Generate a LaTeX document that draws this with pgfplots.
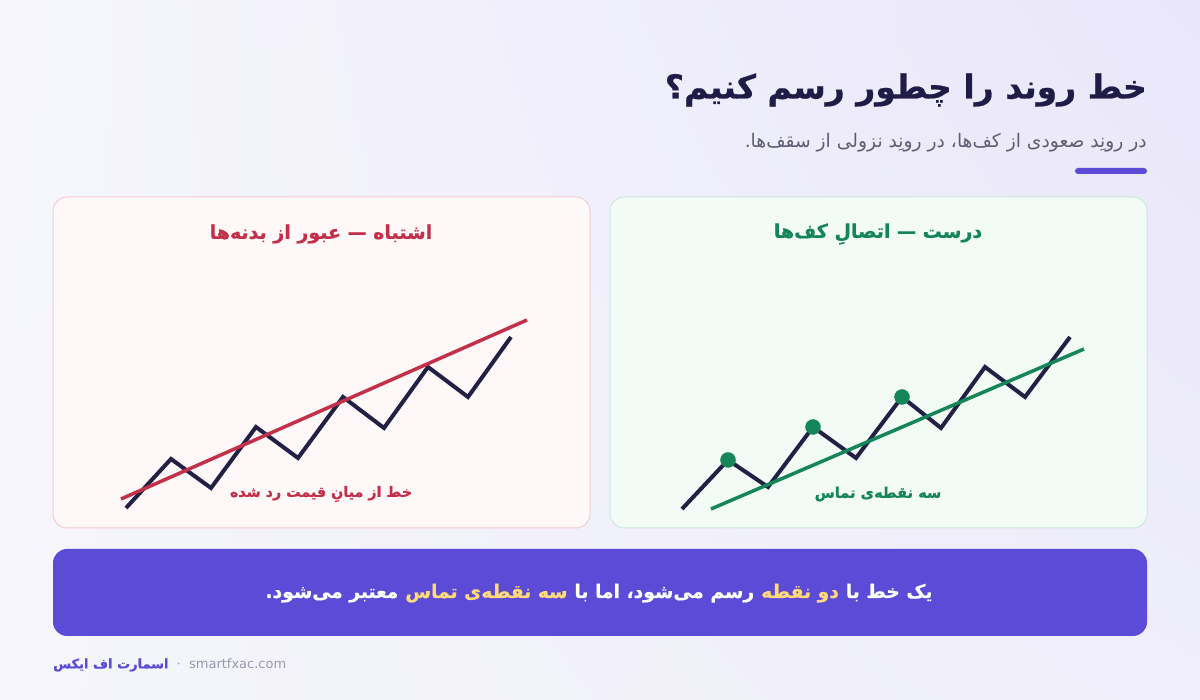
\documentclass[border=0pt]{standalone}
\usepackage{pgfplots}
\pgfplotsset{compat=1.18}
\usetikzlibrary{shadings}
\usepackage{fontspec}
\setmainfont{DejaVu Sans}
\TeXXeTstate=1
\newfontfamily\fa[Script=Arabic]{DejaVu Sans}
\newfontfamily\fab[Script=Arabic, FakeBold=0.6]{DejaVu Sans Bold}
\definecolor{bgUL}{HTML}{F6F6FC}
\definecolor{bgUR}{HTML}{E9E6FA}
\definecolor{bgLL}{HTML}{F5F5FB}
\definecolor{bgLR}{HTML}{EFEEFA}
\definecolor{titlec}{HTML}{1F1C47}
\definecolor{subc}{HTML}{5E5D73}
\definecolor{accent}{HTML}{5B4BD6}
\definecolor{redfill}{HTML}{FFF8F8}
\definecolor{redborder}{HTML}{F4CBD3}
\definecolor{redc}{HTML}{C2304A}
\definecolor{greenfill}{HTML}{F2FBF6}
\definecolor{greenborder}{HTML}{CDE9DC}
\definecolor{greenc}{HTML}{15855A}
\definecolor{pricec}{HTML}{232046}
\definecolor{hilite}{HTML}{FFD97A}
\definecolor{footgray}{HTML}{9A99AB}

\pgfplotstableread{
x y
73 20
118 69
158 40
203 101
245 70
290 131
331 100
375 161
415 131
458 191
}\leftprice
\pgfplotstableread{
x y
68 29
474 208
}\leftline
\pgfplotstableread{
x y
72 19
118 68
158 41
203 101
246 70
292 131
331 100
375 161
415 131
460 191
}\rightprice
\pgfplotstableread{
x y
101 19
474 179
}\rightline
\pgfplotstableread{
x y
118 68
203 101
292 131
}\touches

\newsavebox\barbox
\newdimen\barsp
\newdimen\barx
\def\barfont{\fab\fontsize{18.7}{22}\selectfont}

\begin{document}
\sbox\barbox{\barfont\beginR یک خط با دو نقطه رسم می^^^^200cشود، اما با سه نقطه^^^^200cی تماس معتبر می^^^^200cشود.\endR}%
\setbox0\hbox{\barfont\ }\barsp=\wd0
\barx=\wd\barbox \divide\barx by 2 \advance\barx by 600pt
\begin{tikzpicture}[x=1pt,y=1pt]
\shade[upper left=bgUL, upper right=bgUR, lower left=bgLL, lower right=bgLR] (0,0) rectangle (1200,700);

% title
\node[anchor=east, inner sep=0, text=titlec] at (1147,610)
  {\fab\fontsize{33}{40}\selectfont\beginR خط روند را چطور رسم کنیم؟\endR};
\node[anchor=east, inner sep=0, text=subc] at (1147,557)
  {\fa\fontsize{18.7}{22}\selectfont\beginR در رونِد صعودی از کف^^^^200cها، در رونِد نزولی از سقف^^^^200cها.\endR};
\fill[accent, rounded corners=3pt] (1075,526) rectangle (1147,532);

% panels
\draw[fill=redfill, draw=redborder, line width=1pt, rounded corners=14pt] (53,172) rectangle (590,503);
\draw[fill=greenfill, draw=greenborder, line width=1pt, rounded corners=14pt] (610,172) rectangle (1147,503);

\begin{axis}[at={(53pt,172pt)}, anchor=south west, width=537pt, height=331pt,
  scale only axis, xmin=0, xmax=537, ymin=0, ymax=331, hide axis, clip=false]
\addplot[pricec, line width=4pt, line join=miter, no markers] table {\leftprice};
\addplot[redc, line width=3.5pt, no markers] table {\leftline};
\end{axis}

\begin{axis}[at={(610pt,172pt)}, anchor=south west, width=537pt, height=331pt,
  scale only axis, xmin=0, xmax=537, ymin=0, ymax=331, hide axis, clip=false]
\addplot[pricec, line width=4pt, line join=miter, no markers] table {\rightprice};
\addplot[greenc, line width=3.5pt, no markers] table {\rightline};
\addplot[only marks, mark=*, mark size=7.5pt, greenc, mark options={fill=greenc, draw=greenc}] table {\touches};
\end{axis}

% panel texts
\node[inner sep=0, text=redc] at (321,466)
  {\fab\fontsize{19}{22}\selectfont\beginR اشتباه — عبور از بدنه^^^^200cها\endR};
\node[inner sep=0, text=greenc] at (878,466)
  {\fab\fontsize{19}{22}\selectfont\beginR درست — اتصالِ کف^^^^200cها\endR};
\node[inner sep=0, text=redc] at (321,206)
  {\fab\fontsize{14.3}{18}\selectfont\beginR خط از میانِ قیمت رد شده\endR};
\node[inner sep=0, text=greenc] at (878,206)
  {\fab\fontsize{14.6}{18}\selectfont\beginR سه نقطه^^^^200cی تماس\endR};

% bottom bar
\fill[accent, rounded corners=14pt] (53,64) rectangle (1147,151);
\node[anchor=base east, inner sep=0, text=white] (s1) at (\barx,102pt)
  {\barfont\beginR یک خط با\endR};
\node[anchor=base east, inner sep=0, text=hilite] (s2) at ([xshift=-\barsp]s1.base west)
  {\barfont\beginR دو نقطه\endR};
\node[anchor=base east, inner sep=0, text=white] (s3) at ([xshift=-\barsp]s2.base west)
  {\barfont\beginR رسم می^^^^200cشود، اما با\endR};
\node[anchor=base east, inner sep=0, text=hilite] (s4) at ([xshift=-\barsp]s3.base west)
  {\barfont\beginR سه نقطه^^^^200cی تماس\endR};
\node[anchor=base east, inner sep=0, text=white] (s5) at ([xshift=-\barsp]s4.base west)
  {\barfont\beginR معتبر می^^^^200cشود.\endR};

% footer
\node[anchor=west, inner sep=0] at (53,35)
  {\fontsize{13}{16}\selectfont\hbox{{\fab\color{accent}\beginR اسمارت اف ایکس\endR}}\hbox{{\color{footgray}\ \ ·\ \ smartfxac.com}}};
\end{tikzpicture}
\end{document}
